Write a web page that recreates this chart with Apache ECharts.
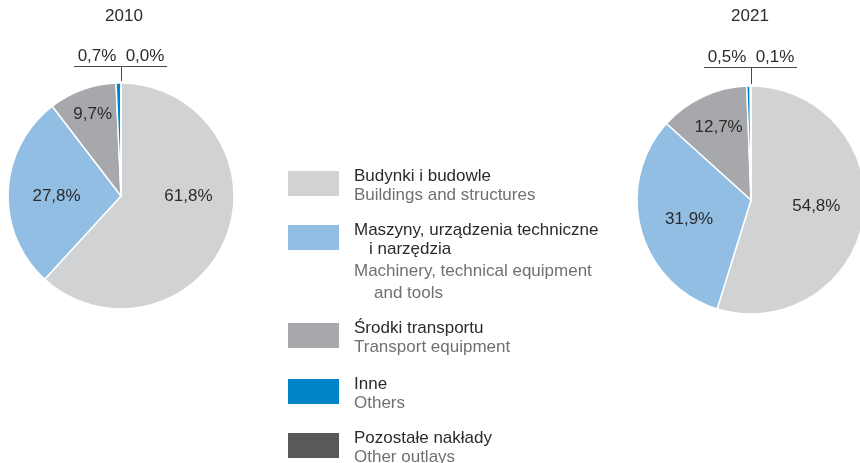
<!DOCTYPE html>
<html>
<head>
<meta charset="utf-8">
<script src="https://cdn.jsdelivr.net/npm/echarts@6/dist/echarts.min.js"></script>
<style>html,body{margin:0;padding:0;background:#fff}#c{width:860px;height:463px}</style>
</head>
<body>
<div id="c"></div>
<script>
const categories = ['Budynki i budowle', 'Maszyny, urządzenia techniczne i narzędzia', 'Środki transportu', 'Inne', 'Pozostałe nakłady'];
const categoriesEn = ['Buildings and structures', 'Machinery, technical equipment and tools', 'Transport equipment', 'Others', 'Other outlays'];
const years = ['2010', '2021'];
const values2010 = [61.8, 27.8, 9.7, 0.7, 0.0];
const values2021 = [54.8, 31.9, 12.7, 0.5, 0.1];

const colors = ['#d1d2d4', '#93bee4', '#a7a8ab', '#0084c8', '#58595b'];
const FONT = '"Liberation Sans", Arial, Helvetica, sans-serif';
const DARK = '#2b2b2b';
const GREY = '#6f7073';

const pies = [
  {cx: 121, cy: 196, r: 113, lineY: 66, nudges: [[12, -21], [-5, 3], [-8, -26]], values: values2010},
  {cx: 751, cy: 200, r: 114, lineY: 67, nudges: [[6, -3], [-4, 3], [-7, -18]], values: values2021}
];

const fmt = v => v.toFixed(1).replace('.', ',') + '%';

const series = pies.map((p, si) => ({
  type: 'pie',
  center: [p.cx, p.cy],
  radius: p.r,
  startAngle: 90,
  clockwise: true,
  avoidLabelOverlap: false,
  animation: false,
  silent: true,
  itemStyle: {borderColor: '#fff', borderWidth: 1.5},
  label: {show: true, position: 'inside', rotate: 0, formatter: d => fmt(d.value), fontSize: 17, fontFamily: FONT, color: DARK},
  labelLine: {show: false},
  data: p.values.map((v, i) => {
    const item = {name: categories[i], value: v, itemStyle: {color: colors[i]}};
    if (i >= 3) {
      item.label = {position: 'outside'};
      item.labelLine = {show: true, length: 5, length2: 5, lineStyle: {color: '#4a4a4a', width: 1}};
    }
    return item;
  }),
  labelLayout: function (params) {
    const i = params.dataIndex;
    const lr = params.labelRect;
    if (i < 3) {
      const n = p.nudges[i];
      return {x: lr.x + lr.width / 2 + n[0], y: lr.y + lr.height / 2 + n[1]};
    }
    const left = i === 3;
    const topY = p.cy - p.r - 2;
    return {
      x: p.cx + (left ? -24 : 24),
      y: p.lineY - 10,
      align: 'center',
      verticalAlign: 'middle',
      labelLinePoints: [[p.cx + 0.5, topY], [p.cx + 0.5, p.lineY + 0.5], [p.cx + (left ? -47 : 46), p.lineY + 0.5]]
    };
  }
}));

const legendText = {
  'Budynki i budowle': '{sp2| }\n{pl|Budynki i budowle}\n{en|Buildings and structures}',
  'Maszyny, urządzenia techniczne i narzędzia': '{sp| }\n{pl|Maszyny, urządzenia techniczne}\n{plI|i narzędzia}\n{enG|Machinery, technical equipment}\n{enI|and tools}',
  'Środki transportu': '{sp2| }\n{pl|Środki transportu}\n{en|Transport equipment}',
  'Inne': '{sp2| }\n{pl|Inne}\n{en|Others}',
  'Pozostałe nakłady': '{sp2| }\n{pl|Pozostałe nakłady}\n{en|Other outlays}'
};
const legendTops = [163.5, 195.5, 315.5, 371.5, 425.5];
const rich = {
  sp: {fontSize: 2, lineHeight: 49},
  sp2: {fontSize: 2, lineHeight: 5},
  pl: {fontSize: 17, fontFamily: FONT, color: DARK, lineHeight: 19, padding: [0, 0, 0, 9]},
  plI: {fontSize: 17, fontFamily: FONT, color: DARK, lineHeight: 19, padding: [0, 0, 0, 24]},
  en: {fontSize: 17, fontFamily: FONT, color: GREY, lineHeight: 19, padding: [0, 0, 0, 9]},
  enG: {fontSize: 17, fontFamily: FONT, color: GREY, lineHeight: 25, padding: [0, 0, 0, 9]},
  enI: {fontSize: 17, fontFamily: FONT, color: GREY, lineHeight: 19, padding: [0, 0, 0, 29]}
};
const legends = categories.map((name, i) => ({
  data: [name],
  left: 286,
  top: legendTops[i],
  orient: 'vertical',
  padding: 0,
  icon: 'rect',
  itemWidth: 53,
  itemHeight: 27,
  selectedMode: false,
  formatter: n => legendText[n],
  textStyle: {rich: rich}
}));

const chart = echarts.init(document.getElementById('c'), null, {renderer: 'canvas'});
chart.setOption({
  animation: false,
  color: colors,
  legend: legends,
  graphic: years.map((y, i) => ({
    type: 'text',
    x: i === 0 ? 124 : 750,
    y: 16,
    style: {text: y, fontSize: 17, fontFamily: FONT, fill: DARK, align: 'center', verticalAlign: 'middle'}
  })),
  series: series
});
</script>
</body>
</html>
